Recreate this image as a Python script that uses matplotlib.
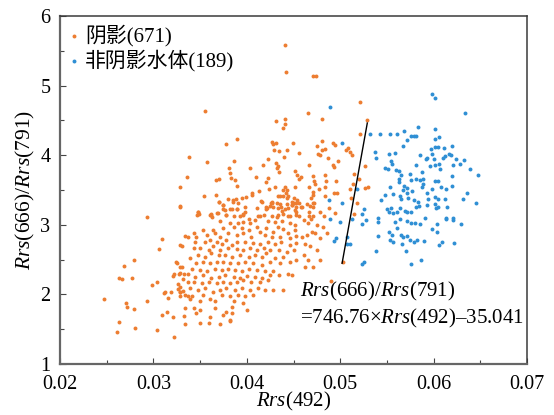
import matplotlib
matplotlib.use("Agg")
import matplotlib.pyplot as plt
import numpy as np

plt.rcParams['font.family'] = ['Liberation Serif', 'Noto Sans CJK SC']
plt.rcParams['mathtext.fontset'] = 'custom'
plt.rcParams['mathtext.rm'] = 'Liberation Serif'
plt.rcParams['mathtext.it'] = 'Liberation Serif:italic'

# values: (Rrs(492), Rrs(666)/Rrs(791))
shadow_pts = [
    (0.0441, 5.59), (0.0442, 5.19), (0.0471, 5.14), (0.0474, 5.14), (0.0521, 4.77),
    (0.0529, 4.50), (0.0466, 4.60), (0.0481, 4.52), (0.0431, 4.49), (0.0441, 4.52),
    (0.0441, 4.45), (0.0439, 4.39),
    (0.0355, 4.63), (0.0390, 4.24), (0.0378, 4.16), (0.0427, 4.19), (0.0431, 4.18),
    (0.0428, 4.16), (0.0429, 4.08), (0.0435, 4.06), (0.0443, 4.07), (0.0338, 3.97),
    (0.0423, 3.95), (0.0440, 3.97), (0.0386, 3.91), (0.0357, 3.90), (0.0431, 3.89),
    (0.0433, 3.85), (0.0432, 3.82), (0.0381, 3.82), (0.0403, 3.81), (0.0417, 3.86),
    (0.0382, 3.75), (0.0434, 3.76), (0.0336, 3.69), (0.0383, 3.67), (0.0367, 3.64),
    (0.0370, 3.66), (0.0387, 3.64), (0.0410, 3.68), (0.0423, 3.67), (0.0421, 3.61),
    (0.0390, 3.56), (0.0430, 3.54), (0.0329, 3.55), (0.0441, 3.54), (0.0439, 3.50),
    (0.0443, 3.50), (0.0442, 3.45), (0.0424, 3.51), (0.0413, 3.49), (0.0406, 3.46),
    (0.0406, 3.43), (0.0354, 3.42), (0.0367, 3.43), (0.0399, 3.40), (0.0395, 3.39),
    (0.0388, 3.37), (0.0385, 3.35), (0.0380, 3.37), (0.0433, 3.42), (0.0436, 3.42),
    (0.0439, 3.42), (0.0444, 3.42), (0.0443, 3.39), (0.0370, 3.33), (0.0415, 3.34),
    (0.0426, 3.32), (0.0427, 3.33), (0.0374, 3.29), (0.0436, 3.30), (0.0328, 3.26),
    (0.0348, 3.18), (0.0349, 3.15), (0.0375, 3.22), (0.0382, 3.23), (0.0390, 3.23),
    (0.0396, 3.15), (0.0398, 3.19), (0.0421, 3.23), (0.0422, 3.24), (0.0428, 3.25),
    (0.0433, 3.24), (0.0438, 3.20), (0.0441, 3.23), (0.0362, 3.14), (0.0363, 3.11),
    (0.0369, 3.17), (0.0378, 3.14), (0.0414, 3.12), (0.0432, 3.11), (0.0444, 3.12),
    (0.0521, 4.31), (0.0449, 4.17), (0.0481, 4.21), (0.0492, 4.17), (0.0494, 4.14),
    (0.0475, 4.13), (0.0508, 4.11), (0.0506, 4.07), (0.0511, 4.05), (0.0513, 4.00),
    (0.0484, 4.09), (0.0480, 4.07), (0.0456, 4.03), (0.0476, 4.02), (0.0478, 4.00),
    (0.0487, 3.96), (0.0498, 3.91), (0.0492, 3.86), (0.0493, 3.83), (0.0467, 3.86),
    (0.0527, 3.85), (0.0452, 3.77), (0.0454, 3.71), (0.0458, 3.69), (0.0456, 3.66),
    (0.0471, 3.70), (0.0484, 3.71), (0.0515, 3.73), (0.0520, 3.66), (0.0495, 3.63),
    (0.0485, 3.63), (0.0472, 3.63), (0.0473, 3.58), (0.0452, 3.54), (0.0467, 3.55),
    (0.0477, 3.51), (0.0484, 3.54), (0.0514, 3.58), (0.0511, 3.51), (0.0527, 3.53),
    (0.0530, 3.54), (0.0493, 3.46), (0.0497, 3.46), (0.0471, 3.47), (0.0471, 3.43),
    (0.0484, 3.41), (0.0512, 3.38), (0.0451, 3.38), (0.0454, 3.36), (0.0448, 3.33),
    (0.0451, 3.32), (0.0456, 3.32), (0.0448, 3.28), (0.0453, 3.26), (0.0458, 3.26),
    (0.0469, 3.38), (0.0472, 3.31), (0.0468, 3.27), (0.0471, 3.25), (0.0488, 3.24),
    (0.0518, 3.32), (0.0494, 3.17), (0.0453, 3.18), (0.0456, 3.13), (0.0478, 3.18),
    (0.0483, 3.13), (0.0467, 3.12), (0.0469, 3.09), (0.0515, 3.16),
    (0.0459, 3.26), (0.0464, 3.30), (0.0471, 3.32), (0.0467, 3.19), (0.0471, 3.13),
    (0.0461, 3.07), (0.0466, 3.02), (0.0475, 3.00), (0.0482, 2.97), (0.0470, 2.90),
    (0.0459, 2.83), (0.0464, 2.85), (0.0473, 2.88), (0.0478, 2.81), (0.0486, 2.88),
    (0.0462, 2.73), (0.0468, 2.69), (0.0475, 2.64), (0.0461, 2.57), (0.0466, 2.49),
    (0.0478, 2.49), (0.0462, 2.40), (0.0471, 2.40), (0.0503, 2.46), (0.0490, 2.19),
    (0.0370, 3.33), (0.0375, 3.28), (0.0385, 3.33), (0.0391, 3.31), (0.0416, 3.33),
    (0.0427, 3.31), (0.0432, 3.32), (0.0443, 3.30), (0.0448, 3.28), (0.0453, 3.32),
    (0.0348, 3.19), (0.0347, 3.14), (0.0362, 3.15), (0.0368, 3.17), (0.0377, 3.21),
    (0.0384, 3.22), (0.0390, 3.22), (0.0398, 3.25), (0.0411, 3.24), (0.0421, 3.25),
    (0.0425, 3.27), (0.0437, 3.26), (0.0444, 3.24), (0.0452, 3.21),
    (0.0361, 3.14), (0.0378, 3.14), (0.0386, 3.12), (0.0393, 3.12), (0.0396, 3.14),
    (0.0402, 3.09), (0.0412, 3.13), (0.0418, 3.14), (0.0427, 3.12), (0.0433, 3.14),
    (0.0439, 3.16), (0.0446, 3.12), (0.0453, 3.14), (0.0371, 3.06), (0.0382, 3.02),
    (0.0391, 3.03), (0.0396, 3.04), (0.0403, 3.02), (0.0409, 3.07), (0.0423, 3.06),
    (0.0430, 3.04), (0.0438, 3.06), (0.0446, 3.03), (0.0452, 3.00),
    (0.0353, 2.93), (0.0364, 2.92), (0.0375, 2.95), (0.0386, 2.97), (0.0395, 2.95),
    (0.0402, 2.93), (0.0411, 2.97), (0.0414, 2.90), (0.0421, 2.95), (0.0428, 2.90),
    (0.0433, 2.97), (0.0439, 2.94), (0.0444, 2.88), (0.0452, 2.93), (0.0343, 2.88),
    (0.0346, 2.83), (0.0357, 2.85), (0.0366, 2.88), (0.0371, 2.83), (0.0380, 2.88),
    (0.0389, 2.85), (0.0396, 2.88), (0.0405, 2.83), (0.0420, 2.85), (0.0427, 2.83),
    (0.0436, 2.83), (0.0446, 2.81), (0.0453, 2.84),
    (0.0344, 2.76), (0.0355, 2.76), (0.0361, 2.78), (0.0368, 2.76), (0.0373, 2.73),
    (0.0378, 2.78), (0.0384, 2.71), (0.0389, 2.76), (0.0398, 2.76), (0.0407, 2.74),
    (0.0414, 2.73), (0.0423, 2.76), (0.0430, 2.73), (0.0437, 2.76), (0.0446, 2.71),
    (0.0453, 2.74), (0.0343, 2.66), (0.0350, 2.66), (0.0359, 2.64), (0.0364, 2.69),
    (0.0371, 2.64), (0.0380, 2.66), (0.0389, 2.65), (0.0396, 2.64), (0.0403, 2.66),
    (0.0411, 2.64), (0.0418, 2.66), (0.0425, 2.64), (0.0434, 2.64), (0.0443, 2.61),
    (0.0450, 2.64),
    (0.0348, 2.57), (0.0355, 2.54), (0.0362, 2.59), (0.0370, 2.57), (0.0377, 2.57),
    (0.0384, 2.54), (0.0393, 2.57), (0.0402, 2.54), (0.0409, 2.57), (0.0416, 2.54),
    (0.0421, 2.59), (0.0430, 2.52), (0.0439, 2.54), (0.0446, 2.47), (0.0346, 2.45),
    (0.0353, 2.47), (0.0361, 2.45), (0.0368, 2.47), (0.0375, 2.47), (0.0382, 2.45),
    (0.0391, 2.45), (0.0398, 2.47), (0.0407, 2.45), (0.0416, 2.42), (0.0425, 2.47),
    (0.0436, 2.45), (0.0453, 2.49),
    (0.0341, 2.37), (0.0350, 2.35), (0.0357, 2.33), (0.0366, 2.37), (0.0373, 2.35),
    (0.0380, 2.37), (0.0387, 2.35), (0.0395, 2.33), (0.0402, 2.37), (0.0411, 2.35),
    (0.0420, 2.33), (0.0428, 2.33), (0.0444, 2.30), (0.0344, 2.25), (0.0353, 2.28),
    (0.0362, 2.23), (0.0370, 2.25), (0.0377, 2.28), (0.0386, 2.25), (0.0393, 2.23),
    (0.0400, 2.26), (0.0409, 2.25), (0.0416, 2.23), (0.0425, 2.28), (0.0434, 2.28),
    (0.0448, 2.28),
    (0.0343, 2.18), (0.0352, 2.16), (0.0359, 2.18), (0.0368, 2.16), (0.0375, 2.18),
    (0.0382, 2.16), (0.0389, 2.18), (0.0396, 2.21), (0.0405, 2.18), (0.0414, 2.18),
    (0.0423, 2.21), (0.0339, 2.09), (0.0348, 2.06), (0.0355, 2.09), (0.0364, 2.04),
    (0.0371, 2.06), (0.0378, 2.09), (0.0387, 2.06), (0.0395, 2.09), (0.0403, 2.06),
    (0.0412, 2.09), (0.0420, 2.07), (0.0428, 2.06), (0.0439, 2.07),
    (0.0341, 1.97), (0.0353, 1.99), (0.0361, 1.94), (0.0373, 1.99), (0.0382, 1.97),
    (0.0391, 1.99), (0.0398, 1.97), (0.0407, 1.99), (0.0350, 1.90), (0.0366, 1.90),
    (0.0386, 1.90), (0.0396, 1.87), (0.0343, 1.80), (0.0350, 1.78), (0.0366, 1.80),
    (0.0384, 1.82), (0.0400, 1.78), (0.0378, 1.75),
    (0.0346, 1.73), (0.0361, 1.68), (0.0375, 1.70), (0.0384, 1.73), (0.0382, 1.63),
    (0.0350, 1.59), (0.0359, 1.59), (0.0371, 1.58), (0.0382, 1.62),
    (0.0328, 3.27), (0.0293, 3.11), (0.0334, 2.84), (0.0337, 2.83), (0.0309, 2.80),
    (0.0329, 2.71), (0.0331, 2.69), (0.0306, 2.65), (0.0339, 2.52), (0.0279, 2.49),
    (0.0324, 2.47), (0.0325, 2.45), (0.0269, 2.41), (0.0329, 2.40), (0.0331, 2.40),
    (0.0322, 2.29), (0.0321, 2.27), (0.0327, 2.30), (0.0329, 2.31), (0.0333, 2.29),
    (0.0337, 2.29), (0.0263, 2.24), (0.0266, 2.22), (0.0277, 2.24), (0.0332, 2.22),
    (0.0337, 2.18), (0.0304, 2.18), (0.0299, 2.14), (0.0326, 2.15), (0.0329, 2.10),
    (0.0326, 2.08), (0.0329, 2.04), (0.0332, 2.05), (0.0328, 2.04), (0.0312, 2.03),
    (0.0311, 2.02), (0.0319, 2.03), (0.0247, 1.94), (0.0316, 1.95), (0.0329, 1.97),
    (0.0334, 1.99), (0.0337, 1.98), (0.0339, 1.93), (0.0271, 1.88), (0.0272, 1.82),
    (0.0293, 1.90), (0.0279, 1.79), (0.0334, 1.81), (0.0309, 1.70), (0.0315, 1.74),
    (0.0321, 1.67), (0.0333, 1.69), (0.0263, 1.60), (0.0334, 1.57), (0.0280, 1.52),
    (0.0304, 1.49), (0.0261, 1.46), (0.0322, 1.39),
]

water_pts = [
    (0.0489, 4.69), (0.0598, 4.88), (0.0602, 4.82), (0.0634, 4.61), (0.0583, 4.41),
    (0.0532, 4.31), (0.0543, 4.31), (0.0553, 4.31), (0.0561, 4.30), (0.0568, 4.35),
    (0.0576, 4.27), (0.0579, 4.28), (0.0581, 4.28), (0.0572, 4.22), (0.0602, 4.38),
    (0.0601, 4.23), (0.0606, 4.26), (0.0502, 4.17), (0.0567, 4.13), (0.0597, 4.09),
    (0.0602, 4.12), (0.0605, 4.12), (0.0611, 4.11), (0.0620, 4.13), (0.0537, 4.04),
    (0.0552, 4.02), (0.0559, 4.03), (0.0538, 3.96), (0.0585, 4.01), (0.0593, 3.96),
    (0.0592, 3.94), (0.0598, 4.02), (0.0600, 3.95), (0.0610, 3.96), (0.0612, 3.99),
    (0.0616, 4.02), (0.0619, 4.01), (0.0624, 3.94), (0.0632, 3.93), (0.0628, 3.87),
    (0.0554, 3.92), (0.0555, 3.88), (0.0581, 3.86), (0.0596, 3.85), (0.0601, 3.86),
    (0.0606, 3.87), (0.0621, 3.86), (0.0639, 3.80), (0.0548, 3.81), (0.0551, 3.80),
    (0.0560, 3.79), (0.0563, 3.78), (0.0588, 3.76), (0.0607, 3.80), (0.0565, 3.72),
    (0.0563, 3.66), (0.0563, 3.61), (0.0575, 3.73), (0.0620, 3.70), (0.0648, 3.72),
    (0.0576, 3.65), (0.0581, 3.66), (0.0585, 3.65), (0.0589, 3.66), (0.0601, 3.63),
    (0.0605, 3.63), (0.0553, 3.55), (0.0568, 3.56), (0.0572, 3.53), (0.0567, 3.50),
    (0.0588, 3.54), (0.0589, 3.58), (0.0598, 3.51), (0.0608, 3.54), (0.0613, 3.51),
    (0.0620, 3.56), (0.0518, 3.51), (0.0548, 3.43), (0.0544, 3.35), (0.0556, 3.44),
    (0.0564, 3.42), (0.0565, 3.37), (0.0572, 3.45), (0.0573, 3.39), (0.0577, 3.48),
    (0.0579, 3.35), (0.0583, 3.33), (0.0593, 3.45), (0.0594, 3.37), (0.0601, 3.40),
    (0.0605, 3.37), (0.0612, 3.37), (0.0631, 3.37), (0.0636, 3.46), (0.0645, 3.32),
    (0.0488, 3.35), (0.0502, 3.32), (0.0525, 3.23), (0.0523, 3.16), (0.0550, 3.23),
    (0.0554, 3.24), (0.0564, 3.24), (0.0552, 3.19), (0.0557, 3.17), (0.0561, 3.18),
    (0.0569, 3.20), (0.0572, 3.19), (0.0576, 3.18), (0.0581, 3.25), (0.0584, 3.27),
    (0.0593, 3.28), (0.0602, 3.30), (0.0603, 3.24), (0.0605, 3.26), (0.0614, 3.25),
    (0.0540, 3.10), (0.0591, 3.10), (0.0613, 3.10), (0.0621, 3.10), (0.0513, 3.09),
    (0.0540, 3.04), (0.0559, 3.04), (0.0564, 3.08), (0.0571, 3.06), (0.0576, 3.02),
    (0.0580, 3.03), (0.0585, 3.01), (0.0604, 3.01), (0.0613, 3.08), (0.0621, 3.07),
    (0.0629, 3.01), (0.0540, 2.84), (0.0552, 2.90), (0.0555, 2.86), (0.0553, 2.78),
    (0.0556, 2.75), (0.0561, 2.95), (0.0565, 2.86), (0.0567, 2.82), (0.0571, 2.84),
    (0.0566, 2.73), (0.0575, 2.78), (0.0579, 2.75), (0.0582, 2.78), (0.0590, 2.77),
    (0.0598, 2.94), (0.0604, 2.90), (0.0609, 2.76), (0.0606, 2.71), (0.0622, 2.74),
    (0.0538, 2.63), (0.0570, 2.63), (0.0576, 2.44), (0.0587, 2.49), (0.0525, 2.46),
    (0.0523, 2.44), (0.0493, 2.77), (0.0495, 2.81), (0.0507, 2.73), (0.0510, 2.72),
    (0.0507, 2.83), (0.0523, 3.01), (0.0528, 3.07), (0.0500, 3.04), (0.0489, 3.09),
]

shadow_label = '阴影(671)'
water_label = '非阴影水体(189)'
fit_slope = 746.76
fit_intercept = -35.041
fit_x = [0.0502, 0.0529]

x_ticks = [0.02, 0.03, 0.04, 0.05, 0.06, 0.07]
y_ticks = [1, 2, 3, 4, 5, 6]

orange = '#ED7D31'
blue = '#2F8FD4'

sx, sy = np.array(shadow_pts).T
wx, wy = np.array(water_pts).T

fig = plt.figure(figsize=(5.54, 4.15), dpi=100)
ax = fig.add_axes([0.1083, 0.1229, 0.8430, 0.8385])

ax.scatter(sx, sy, s=8, color=orange, linewidths=0, label=shadow_label, zorder=2)
ax.scatter(wx, wy, s=8, color=blue, linewidths=0, label=water_label, zorder=2)

fx = np.array(fit_x)
ax.plot(fx, fit_slope * fx + fit_intercept, color='black', lw=1.0, zorder=3)

ax.set_xlim(0.02, 0.07)
ax.set_ylim(1, 6)
ax.set_xticks(x_ticks)
ax.set_xticklabels([f'{v:.2f}' for v in x_ticks])
ax.set_yticks(y_ticks)
ax.set_xticks(np.arange(0.025, 0.07, 0.01), minor=True)
ax.set_yticks(np.arange(1.5, 6, 1.0), minor=True)
ax.tick_params(which='both', direction='in', labelsize=14.5, color='#444444')
ax.tick_params(axis='x', which='major', length=4, width=0.8, pad=8)
ax.tick_params(axis='y', which='major', length=4, width=0.8, pad=7)
ax.tick_params(which='minor', length=3, width=0.8)

for sp in ax.spines.values():
    sp.set_color('#3a3a3a')
    sp.set_linewidth(1.1)
ax.spines['left'].set_color('#666666')
ax.spines['left'].set_linewidth(1.6)
ax.spines['bottom'].set_color('#666666')
ax.spines['bottom'].set_linewidth(1.6)

ax.set_xlabel(r'$\mathit{Rrs}$(492)', fontsize=15, labelpad=-3)
ax.set_ylabel(r'$\mathit{Rrs}$(666)/$\mathit{Rrs}$(791)', fontsize=15.5, labelpad=2)

ax.text(0.0457, 2.04, r'$\mathit{Rrs}$(666)/$\mathit{Rrs}$(791)', fontsize=15,
        va='center', ha='left')
ax.text(0.0457, 1.66, r'=746.76×$\mathit{Rrs}$(492)–35.041', fontsize=15,
        va='center', ha='left')

leg = ax.legend(loc='upper left', frameon=False, fontsize=15, markerscale=1.0,
                handlelength=0.5, handletextpad=0.3, labelspacing=0.15,
                borderaxespad=0.2, borderpad=0.2)

fig.savefig('out.png', dpi=100)
